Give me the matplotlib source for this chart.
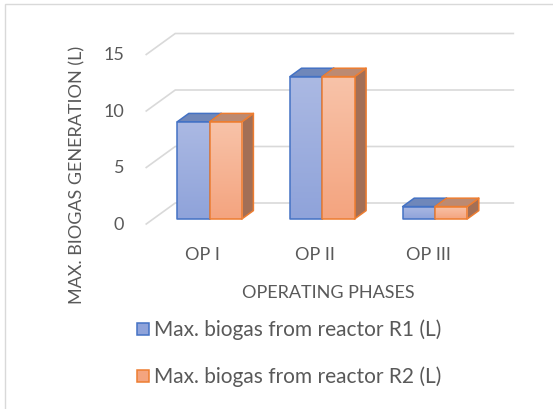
import numpy as np
import matplotlib
matplotlib.use("Agg")
import matplotlib.pyplot as plt
from matplotlib.patches import Polygon, Rectangle
from matplotlib.colors import LinearSegmentedColormap

# ---- data ----
categories = ["OP I", "OP II", "OP III"]
series_names = ["Max. biogas from reactor R1 (L)", "Max. biogas from reactor R2 (L)"]
r1_values = [8.6, 12.6, 1.1]
r2_values = [8.6, 12.6, 1.1]
y_ticks = [0, 5, 10, 15]
x_title = "OPERATING PHASES"
y_title = "MAX. BIOGAS GENERATION (L)"

# ---- styling ----
plt.rcParams["font.family"] = ["Lato", "DejaVu Sans"]
TEXT = "#595959"
GRID = "#d9d9d9"
styles = [
    dict(edge="#4472c4", top_grad="#abb9e3", bot_grad="#8fa3da", roof="#6f87ba", side="#5b73a8"),
    dict(edge="#ed7d31", top_grad="#f8c3a9", bot_grad="#f4a47f", roof="#bc8a72", side="#a36f56"),
]

W, H = 553, 410
fig = plt.figure(figsize=(W / 100, H / 100), dpi=100)
ax = fig.add_axes([0, 0, 1, 1])

# pixel geometry of the oblique projection
PX_CAT = 112.7        # pixels per category step
PX_UNIT = 11.3        # pixels per value unit
X0_PX, Y0_PX = 209.5, 220.0   # category 0 centre / value 0 on the bar front plane
ax.set_xlim(-X0_PX / PX_CAT, (W - X0_PX) / PX_CAT)
ax.set_ylim((Y0_PX - H) / PX_UNIT, Y0_PX / PX_UNIT)
ax.axis("off")

def px_dx(p):
    return p / PX_CAT

def px_dy(p):
    return p / PX_UNIT

depth = np.array([px_dx(29), px_dy(21)])
front_off = -5 / 21 * depth
back_off = 16 / 21 * depth
bar_depth = 0.4 * depth
bar_w = px_dx(32.3)

# side wall and back wall gridlines
x_left, x_right = -0.5, len(categories) - 0.5
for v in y_ticks:
    fl = np.array([x_left, v]) + front_off
    bl = np.array([x_left, v]) + back_off
    br = np.array([x_right, v]) + back_off
    ax.plot([fl[0], bl[0], br[0]], [fl[1], bl[1], br[1]], color=GRID, lw=1.2,
            solid_joinstyle="miter", zorder=1)
    ax.text(fl[0] - px_dx(22), fl[1], str(v), ha="right", va="center",
            fontsize=13, color=TEXT)

def draw_bar(x0, h, st, z):
    dx, dv = bar_depth
    w = bar_w
    side = Polygon([(x0 + w, 0), (x0 + w + dx, dv), (x0 + w + dx, h + dv), (x0 + w, h)],
                   closed=True, facecolor=st["side"], edgecolor=st["edge"], lw=1.1,
                   joinstyle="round", zorder=z)
    roof = Polygon([(x0, h), (x0 + w, h), (x0 + w + dx, h + dv), (x0 + dx, h + dv)],
                   closed=True, facecolor=st["roof"], edgecolor=st["edge"], lw=1.1,
                   joinstyle="round", zorder=z)
    ax.add_patch(side)
    ax.add_patch(roof)
    cmap = LinearSegmentedColormap.from_list("g", [st["bot_grad"], st["top_grad"]])
    grad = np.linspace(0, 1, 64).reshape(-1, 1)
    im = ax.imshow(grad, cmap=cmap, extent=(x0, x0 + w, 0, h), origin="lower",
                   aspect="auto", interpolation="bilinear", zorder=z)
    front = Rectangle((x0, 0), w, h, facecolor="none", edgecolor=st["edge"], lw=1.1,
                      joinstyle="round", zorder=z + 0.1)
    ax.add_patch(front)
    im.set_clip_path(front)

for i, (a, b) in enumerate(zip(r1_values, r2_values)):
    draw_bar(i - bar_w, a, styles[0], 3)
    draw_bar(i, b, styles[1], 4)

# category labels on the front edge of the floor
for i, c in enumerate(categories):
    p = np.array([i, 0]) + front_off
    ax.text(p[0], p[1] - px_dy(30), c, ha="center", va="center", fontsize=13, color=TEXT)

# axis titles
ax.text(px_dx(328 - X0_PX), px_dy(Y0_PX - 293), x_title, ha="center", va="center",
        fontsize=13, color=TEXT)
ax.text(px_dx(77 - X0_PX), px_dy(Y0_PX - 175), y_title, ha="center", va="center",
        rotation=90, fontsize=13, color=TEXT)

# legend
for k, (name, st) in enumerate(zip(series_names, styles)):
    yc = px_dy(Y0_PX - (330 + 47 * k))
    xs = px_dx(137 - X0_PX)
    sq = Rectangle((xs, yc - px_dy(6)), px_dx(12), px_dy(12), facecolor=st["bot_grad"],
                   edgecolor=st["edge"], lw=1.1, zorder=5)
    ax.add_patch(sq)
    ax.text(px_dx(154 - X0_PX), yc, name, ha="left", va="center", fontsize=15, color=TEXT)

# chart area border
fig.add_artist(Rectangle((5 / W, -0.1), 1.2, 1.1 - 5 / H, transform=fig.transFigure,
                         facecolor="none", edgecolor=GRID, lw=1.0))

fig.savefig("out.png", dpi=100, facecolor="white")
